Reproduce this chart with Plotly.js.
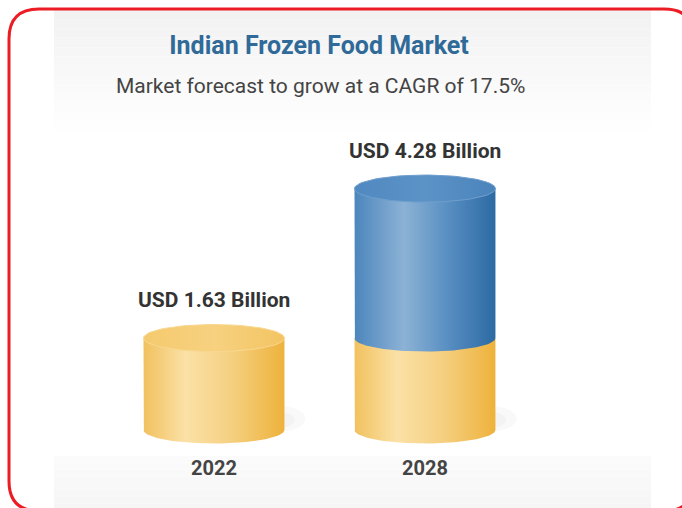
<!DOCTYPE html>
<html>
<head>
<meta charset="utf-8">
<script src="https://cdn.plot.ly/plotly-3.0.1.min.js"></script>
<style>
  html, body { margin: 0; padding: 0; background: #ffffff; }
  #chart { width: 682px; height: 508px; }
</style>
</head>
<body>
<div id="chart"></div>
<script>
// ---------------- data ----------------
const years = ['2022', '2028'];
const marketSize = [1.63, 4.28];            // USD billion
const valueLabels = ['USD 1.63 Billion', 'USD 4.28 Billion'];
const chartTitle = 'Indian Frozen Food Market';
const chartSubtitle = 'Market forecast to grow at a CAGR of 17.5%';

// ---------------- geometry / style ----------------
const W = 682, H = 508;
const M = { l: 0, r: 0, t: 0, b: 58 };
const plotH = H - M.t - M.b;
const xs = years.map((_, i) => i);
const halfW = 0.334;      // half width of cylinder in x units
const ry = 0.24;          // ellipse half height in y units
const yRange = [-0.355, 7.624];
const xRange = [-1.014, 2.218];

const yellowScale = [[0, '#f1c15e'], [0.3, '#fbe1a6'], [0.62, '#f5d082'], [1, '#eeb23b']];
const blueScale = [[0, '#4c86bd'], [0.35, '#8cb2d5'], [0.65, '#5a90c3'], [1, '#2c6aa3']];
const yellowTop = [[0, '#f5ca6e'], [0.5, '#f7d180'], [1, '#f3c462']];
const blueTop = [[0, '#5089c0'], [0.5, '#5c93c7'], [1, '#4a84bb']];

function ellipse(cx, cy, rx, ryy, n) {
  const X = [], Y = [];
  for (let k = 0; k <= n; k++) {
    const t = 2 * Math.PI * k / n;
    X.push(cx + rx * Math.cos(t));
    Y.push(cy + ryy * Math.sin(t));
  }
  return { x: X, y: Y };
}
function body(cx, y0, y1, n) {
  const X = [cx - halfW, cx - halfW], Y = [y1, y0];
  for (let k = 0; k <= n; k++) {
    const t = Math.PI * k / n;
    X.push(cx - halfW * Math.cos(t));
    Y.push(y0 - ry * Math.sin(t));
  }
  X.push(cx + halfW); Y.push(y1);
  X.push(cx - halfW); Y.push(y1);
  return { x: X, y: Y };
}
function fillTrace(pts, scale, lineColor) {
  return {
    type: 'scatter', mode: 'lines', x: pts.x, y: pts.y, fill: 'toself',
    fillgradient: { type: 'horizontal', colorscale: scale },
    line: { width: lineColor ? 1 : 0, color: lineColor || 'rgba(0,0,0,0)' },
    hoverinfo: 'skip', showlegend: false
  };
}
function solidTrace(pts, color) {
  return {
    type: 'scatter', mode: 'lines', x: pts.x, y: pts.y, fill: 'toself',
    fillcolor: color, line: { width: 0, color: 'rgba(0,0,0,0)' },
    hoverinfo: 'skip', showlegend: false
  };
}

const traces = [];
const base = marketSize[0];
xs.forEach((cx, i) => {
  // soft shadow just right of the base
  traces.push(solidTrace(ellipse(cx + halfW - 0.01, 0.2, 0.11, 0.22, 40), 'rgba(0,0,0,0.022)'));
  traces.push(solidTrace(ellipse(cx + halfW - 0.03, 0.18, 0.08, 0.15, 40), 'rgba(0,0,0,0.025)'));
  const yellowTopVal = Math.min(marketSize[i], base);
  traces.push(fillTrace(body(cx, 0, yellowTopVal, 60), yellowScale));
  if (marketSize[i] > base) {
    traces.push(fillTrace(body(cx, base, marketSize[i], 60), blueScale));
    traces.push(fillTrace(ellipse(cx, marketSize[i], halfW, ry, 80), blueTop, '#6f9fcd'));
  } else {
    traces.push(fillTrace(ellipse(cx, marketSize[i], halfW, ry, 80), yellowTop, '#f8d890'));
  }
});

// ---------- pixel -> paper helpers for decoration ----------
const PX = x => x / W;
const PY = y => 1 - (y - M.t) / plotH;

const shapes = [];
// panel
shapes.push({ type: 'rect', xref: 'paper', yref: 'paper', layer: 'below',
  x0: PX(54), x1: PX(651), y0: PY(510), y1: PY(10), fillcolor: '#ffffff', line: { width: 0 } });
// top gradient bands
const nb = 14, topStart = 10, topEnd = 140;
for (let k = 0; k < nb; k++) {
  const a = topStart + (topEnd - topStart) * k / nb;
  const b = topStart + (topEnd - topStart) * (k + 1) / nb;
  const g = Math.round(241 + (255 - 241) * (k + 0.5) / nb);
  shapes.push({ type: 'rect', xref: 'paper', yref: 'paper', layer: 'below',
    x0: PX(54), x1: PX(651), y0: PY(b), y1: PY(a),
    fillcolor: `rgb(${g},${g},${g})`, line: { width: 0 } });
}
// bottom gradient bands
const nb2 = 8, botStart = 456, botEnd = 510;
for (let k = 0; k < nb2; k++) {
  const a = botStart + (botEnd - botStart) * k / nb2;
  const b = botStart + (botEnd - botStart) * (k + 1) / nb2;
  const g = Math.round(251 - 6 * (k + 0.5) / nb2);
  shapes.push({ type: 'rect', xref: 'paper', yref: 'paper', layer: 'below',
    x0: PX(54), x1: PX(651), y0: PY(b), y1: PY(a),
    fillcolor: `rgb(${g},${g},${g})`, line: { width: 0 } });
}
// red rounded border
(function () {
  const x0 = 9, y0 = 9, x1 = 694, y1 = 511, r = 30;
  const p = (x, y) => `${PX(x)},${PY(y)}`;
  const path = `M ${p(x0 + r, y0)} L ${p(x1 - r, y0)} Q ${p(x1, y0)} ${p(x1, y0 + r)} ` +
    `L ${p(x1, y1 - r)} Q ${p(x1, y1)} ${p(x1 - r, y1)} L ${p(x0 + r, y1)} ` +
    `Q ${p(x0, y1)} ${p(x0, y1 - r)} L ${p(x0, y0 + r)} Q ${p(x0, y0)} ${p(x0 + r, y0)} Z`;
  shapes.push({ type: 'path', xref: 'paper', yref: 'paper', path: path, layer: 'above',
    line: { color: '#ec1c24', width: 3 }, fillcolor: 'rgba(0,0,0,0)' });
})();

const annotations = xs.map((cx, i) => ({
  x: cx, y: marketSize[i], xref: 'x', yref: 'y', text: valueLabels[i],
  showarrow: false, yanchor: 'middle', yshift: 38,
  font: { family: 'Roboto, Arial, sans-serif', size: 21, color: '#333333', weight: 'bold' }
}));
annotations.push({
  xref: 'paper', yref: 'paper', x: PX(320), y: PY(86), text: chartSubtitle,
  showarrow: false, xanchor: 'center', yanchor: 'middle',
  font: { family: 'Roboto, Arial, sans-serif', size: 21, color: '#444444' }
});

const layout = {
  width: W, height: H,
  margin: M,
  paper_bgcolor: '#ffffff', plot_bgcolor: 'rgba(0,0,0,0)',
  title: {
    text: '<b>' + chartTitle + '</b>',
    x: PX(319), xanchor: 'center', y: 1 - 45 / H, yanchor: 'middle', yref: 'container',
    font: { family: 'Roboto, Arial, sans-serif', size: 25, color: '#2f6a98' }
  },
  xaxis: {
    range: xRange, tickmode: 'array', tickvals: xs, ticktext: years,
    showgrid: false, zeroline: false, showline: false, ticks: '',
    ticklabelstandoff: 4,
    tickfont: { family: 'Roboto, Arial, sans-serif', size: 20, color: '#444444', weight: 'bold' },
    fixedrange: true
  },
  yaxis: {
    range: yRange, visible: false, showgrid: false, zeroline: false, fixedrange: true
  },
  shapes: shapes,
  annotations: annotations,
  showlegend: false
};

Plotly.newPlot('chart', traces, layout, { displayModeBar: false, staticPlot: true });
</script>
</body>
</html>
